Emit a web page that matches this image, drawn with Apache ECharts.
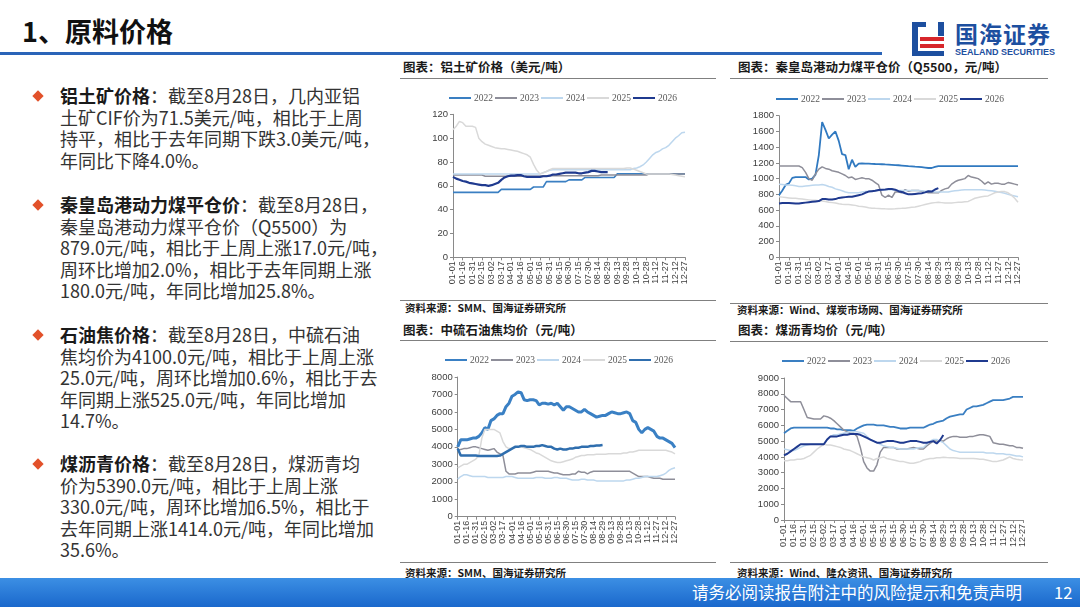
<!DOCTYPE html>
<html><head><meta charset="utf-8">
<script src="https://cdn.jsdelivr.net/npm/echarts/dist/echarts.min.js"></script>
<style>
body{margin:0;width:1080px;height:607px;position:relative;overflow:hidden;background:#fff;font-family:"Noto Sans CJK SC","Noto Sans",sans-serif;}
.abs{position:absolute;}
.para{position:absolute;left:60px;font-size:18px;line-height:21.6px;color:#333;white-space:nowrap;}
.para b{color:#1a1a1a;}
.dia{position:absolute;width:8px;height:8px;background:#e2512a;transform:rotate(45deg);}
.ct{position:absolute;font-size:12.5px;font-weight:bold;color:#1a1a1a;line-height:16px;white-space:nowrap;}
.src{position:absolute;font-size:10.5px;font-weight:bold;color:#1a1a1a;line-height:14px;white-space:nowrap;}
.hl{position:absolute;height:1px;background:#808080;}
.chart{position:absolute;}
</style></head>
<body>
<div class="abs" style="left:22px;top:13px;font-size:27px;font-weight:bold;line-height:36px;color:#111;">1、原料价格</div>
<div class="abs" style="left:0;top:52px;width:882px;height:3px;background:#2a64b8;"></div>
<!-- logo -->
<div class="abs" style="left:912px;top:22px;width:6px;height:34px;background:#1d4f9f;"></div>
<div class="abs" style="left:912px;top:22px;width:14px;height:5px;background:#1d4f9f;"></div>
<div class="abs" style="left:938px;top:22px;width:6px;height:14px;background:#1d4f9f;"></div>
<div class="abs" style="left:920px;top:37px;width:24px;height:4px;background:#d7262b;"></div>
<div class="abs" style="left:920px;top:44px;width:24px;height:4px;background:#d7262b;"></div>
<div class="abs" style="left:912px;top:51px;width:32px;height:5px;background:#1d4f9f;"></div>
<div class="abs" style="left:955px;top:19px;font-size:23px;font-weight:bold;color:#1d4f9f;letter-spacing:1px;line-height:28px;">国海证券</div>
<div class="abs" style="left:955px;top:47px;font-size:9px;font-weight:bold;color:#1d4f9f;font-family:'Liberation Sans',Arial,sans-serif;line-height:11px;">SEALAND SECURITIES</div>

<!-- left text -->
<div class="dia" style="left:34px;top:92px;"></div>
<div class="para" style="top:85px;"><b>铝土矿价格</b>：截至8月28日，几内亚铝<br>土矿CIF价为71.5美元/吨，相比于上周<br>持平，相比于去年同期下跌3.0美元/吨，<br>年同比下降4.0%。</div>
<div class="dia" style="left:34px;top:201px;"></div>
<div class="para" style="top:194px;"><b>秦皇岛港动力煤平仓价</b>：截至8月28日，<br>秦皇岛港动力煤平仓价（Q5500）为<br>879.0元/吨，相比于上周上涨17.0元/吨，<br>周环比增加2.0%，相比于去年同期上涨<br>180.0元/吨，年同比增加25.8%。</div>
<div class="dia" style="left:34px;top:331px;"></div>
<div class="para" style="top:324px;"><b>石油焦价格</b>：截至8月28日，中硫石油<br>焦均价为4100.0元/吨，相比于上周上涨<br>25.0元/吨，周环比增加0.6%，相比于去<br>年同期上涨525.0元/吨，年同比增加<br>14.7%。</div>
<div class="dia" style="left:34px;top:460px;"></div>
<div class="para" style="top:453px;"><b>煤沥青价格</b>：截至8月28日，煤沥青均<br>价为5390.0元/吨，相比于上周上涨<br>330.0元/吨，周环比增加6.5%，相比于<br>去年同期上涨1414.0元/吨，年同比增加<br>35.6%。</div>

<!-- chart frames -->
<div class="ct" style="left:403px;top:59px;">图表：铝土矿价格（美元/吨）</div>
<div class="hl" style="left:400px;top:78px;width:316px;"></div>
<div class="ct" style="left:738px;top:59px;">图表：秦皇岛港动力煤平仓价（Q5500，元/吨）</div>
<div class="hl" style="left:730px;top:78px;width:318px;"></div>
<div class="ct" style="left:403px;top:322px;">图表：中硫石油焦均价（元/吨）</div>
<div class="hl" style="left:400px;top:340px;width:316px;"></div>
<div class="ct" style="left:738px;top:322px;">图表：煤沥青均价（元/吨）</div>
<div class="hl" style="left:730px;top:341px;width:318px;"></div>

<div class="hl" style="left:400px;top:300px;width:316px;"></div>
<div class="src" style="left:405px;top:301px;">资料来源：SMM、国海证券研究所</div>
<div class="hl" style="left:730px;top:303px;width:318px;"></div>
<div class="src" style="left:737px;top:303px;">资料来源：Wind、煤炭市场网、国海证券研究所</div>
<div class="hl" style="left:400px;top:562px;width:316px;"></div>
<div class="src" style="left:405px;top:566px;">资料来源：SMM、国海证券研究所</div>
<div class="hl" style="left:730px;top:562px;width:318px;"></div>
<div class="src" style="left:737px;top:566px;">资料来源：Wind、隆众资讯、国海证券研究所</div>

<div id="c1" class="chart" style="left:400px;top:80px;width:320px;height:218px;"></div>
<div id="c2" class="chart" style="left:730px;top:80px;width:320px;height:220px;"></div>
<div id="c3" class="chart" style="left:400px;top:342px;width:320px;height:218px;"></div>
<div id="c4" class="chart" style="left:730px;top:342px;width:320px;height:218px;"></div>

<div class="abs" style="left:0;top:578px;width:1080px;height:29px;background:linear-gradient(180deg,#3c8fe4 0%,#1a68cc 100%);"></div>
<div class="abs" style="left:692px;top:578px;font-size:16.5px;line-height:29px;color:#fff;white-space:nowrap;">请务必阅读报告附注中的风险提示和免责声明</div>
<div class="abs" style="left:1054px;top:578px;font-size:16.5px;line-height:29px;color:#fff;">12</div>

<script>
const categories = [
'01-01','01-06','01-11','01-16','01-21','01-26','01-31','02-05','02-10','02-15','02-20','02-25',
'03-02','03-07','03-12','03-17','03-22','03-27','04-01','04-06','04-11','04-16','04-21','04-26',
'05-01','05-06','05-11','05-16','05-21','05-26','05-31','06-05','06-10','06-15','06-20','06-25',
'06-30','07-05','07-10','07-15','07-20','07-25','07-30','08-04','08-09','08-14','08-19','08-24',
'08-29','09-03','09-08','09-13','09-18','09-23','09-28','10-03','10-08','10-13','10-18','10-23',
'10-28','11-02','11-07','11-12','11-17','11-22','11-27','12-02','12-07','12-12','12-17','12-22',
'12-27'];
const years = ['2022','2023','2024','2025','2026'];

// Chart 1: bauxite (USD/t)
const bauxite2022 = [
54.5,54.5,54.5, 54.5,54.5,54.5, 54.5,54.5,54.5, 54.5,54.5,54.5, 54.5,54.5,54.5,
57,57,57, 57,57,57, 57,57,57, 57,59,59, 59,59,63.5,
63.5,63.5,63.5, 63.5,63.5,63.5, 65,65,65, 65,65,67, 67,67,67,
67,67,67, 67,67,67, 70,70,70, 70,70,70, 70,70,70,
70,70,70, 70,70,70, 70,70,70, 70,70,70, 70];
const bauxite2023 = [
69,69,69, 69,69,69, 69,69,69, 69,68,68, 68,68,68,
68,68,68, 68,68,68, 68,68,68, 68,68,68, 68,68.5,68.5,
68.5,68.5,68.5, 68.5,68.5,68.5, 68.5,68.5,68.5, 68.5,68.5,68.5, 68.5,68.5,68.5,
68.5,69,69, 69,69,69, 69,69,69, 69,69,69, 69,69,69,
69,70,70, 70,70,70, 70,70,70, 70,70,70, 70];
const bauxite2024 = [
70,70,70, 70,70,70, 70,70,70, 70,70,70, 70,70,70,
70,70,70, 70,70,70, 70,70,70, 70,70,70, 70,71,72,
73,73.5,73.5, 73.5,73.5,73.5, 73.5,73.5,73.5, 73.5,73.5,73.5, 73.5,73.5,73.5,
73.5,73.5,73.5, 73.5,73.5,73.5, 73.5,73.5,73.5, 73.5,73.5,74.5, 75,76,77.5,
80,83,86, 88,89,91, 92,94,97, 100,102,104.5, 105];
const bauxite2025 = [
107,110,114, 113,110,110, 110,109,100, 97,95,94, 93,92,91.5,
91,91,90.5, 90,89.5,89, 88,87,86, 84,78,73, 70,71,72,
73.5,74.5,74.5, 74.5,74.5,74.5, 74.5,74.5,74.5, 74.5,74.5,74.5, 74.5,74.5,74.5,
74.5,74.5,74.5, 74.5,74.5,74.5, 74.5,74.5,74.5, 75,75,74, 73,72,71,
70,70,70, 70,70,70, 70,70,69.5, 69,68.5,68, 67.5];
const bauxite2026 = [
67.5,66,65, 64,63.5,62.5, 62,61.5,61, 60.5,60.5,60, 60.5,61.5,62.5,
65,67,68, 68.5,68.5,69, 69,68,67.5, 67.5,67.5,67.5, 67.5,68,68,
68.5,69.5,69.5, 70,70.5,71, 71,71,71, 70.5,70.5,71, 71.5,72.5,72.5,
72,71.5,71.5, 71.5];

// Chart 2: Qinhuangdao thermal coal Q5500 (CNY/t)
const coal2022 = [
790,850,920, 940,1010,1020, 1020,1020,1020, 990,1000,1050, 1300,1720,1620,
1510,1560,1600, 1480,1310,1300, 1120,1240,1150, 1190,1195,1190, 1190,1188,1186,
1185,1183,1180, 1178,1175,1172, 1170,1166,1162, 1158,1155,1152, 1150,1145,1140,
1135,1135,1150, 1160,1160,1160, 1160,1160,1160, 1160,1160,1160, 1160,1160,1160,
1160,1160,1160, 1160,1160,1160, 1160,1160,1160, 1160,1160,1160, 1160];
const coal2023 = [
1160,1160,1160, 1160,1160,1160, 1160,1140,1080, 1000,980,1060, 1120,1150,1130,
1120,1100,1090, 1080,1060,1040, 1010,1020,990, 1000,1010,1000, 1000,980,950,
920,790,760, 790,760,830, 830,820,860, 840,850,850, 850,840,830,
820,820,820, 820,850,870, 880,930,960, 980,990,1000, 1040,1020,1010,
1000,970,930, 960,930,940, 940,930,930, 950,940,930, 920];
const coal2024 = [
930,925,920, 920,915,910, 900,900,905, 910,915,920, 920,925,915,
900,890,870, 860,845,830, 820,820,820, 820,830,835, 840,845,850,
850,855,860, 860,860,855, 850,850,850, 850,850,850, 850,845,840,
840,835,830, 830,830,830, 830,840,845, 850,855,860, 860,860,860,
860,860,855, 850,845,840, 830,825,815, 800,790,780, 770];
const coal2025 = [
770,765,760, 755,750,750, 745,740,735, 730,725,725, 720,715,710,
700,695,690, 680,675,672, 670,665,660, 650,645,640, 630,625,622,
620,618,616, 615,615,616, 620,622,625, 630,635,640, 650,660,670,
680,690,695, 699,695,690, 690,690,695, 700,700,705, 710,730,750,
760,770,775, 780,800,820, 830,835,835, 820,790,750, 700];
const coal2026 = [
685,690,690, 690,688,685, 685,690,695, 700,705,710, 715,740,740,
735,735,740, 755,760,765, 770,770,780, 790,800,820, 835,840,845,
855,860,862, 868,868,860, 840,830,815, 800,800,805, 810,815,825,
840,835,862, 879];

// Chart 3: medium-sulfur petroleum coke (CNY/t)
const petcoke2022 = [
4000,4400,4400, 4400,4450,4500, 4500,4600,4800, 5100,5000,5500, 5600,5800,5900,
5900,6300,6500, 6900,7000,7150, 7100,6700,6650, 6700,6700,6650, 6400,6500,6500,
6450,6500,6400, 6500,6300,6100, 6300,6300,6200, 6100,6000,6000, 6150,6000,5900,
5800,5700,5750, 5800,5800,5900, 6000,5950,5900, 5900,5950,6000, 5900,5500,5400,
5000,4800,5000, 5100,5000,4900, 4600,4500,4500, 4400,4300,4200, 3950];
const petcoke2023 = [
3800,3850,3900, 3900,3950,4000, 4000,3950,3900, 3850,3800,3850, 3900,3700,3600,
3500,2600,2450, 2450,2450,2500, 2500,2500,2500, 2500,2550,2600, 2600,2600,2600,
2600,2550,2500, 2500,2450,2400, 2400,2400,2450, 2450,2600,2550, 2550,2450,2550,
2600,2600,2600, 2600,2600,2600, 2600,2600,2600, 2600,2600,2600, 2600,2500,2400,
2300,2300,2300, 2300,2250,2200, 2200,2200,2150, 2150,2150,2150, 2150];
const petcoke2024 = [
2150,2300,2400, 2400,2350,2300, 2300,2300,2300, 2300,2250,2250, 2250,2250,2250,
2250,2300,2300, 2300,2250,2200, 2200,2200,2200, 2200,2200,2250, 2250,2250,2200,
2200,2200,2250, 2250,2200,2200, 2200,2150,2100, 2100,2100,2150, 2150,2100,2100,
2100,2050,2050, 2050,2050,2050, 2050,2050,2050, 2050,2050,2100, 2100,2150,2200,
2200,2250,2300, 2300,2300,2300, 2300,2350,2400, 2500,2650,2750, 2800];
const petcoke2025 = [
2800,2900,3000, 3000,3100,3200, 3300,3500,4500, 5000,5000,5000, 5000,4900,4800,
4300,4000,3900, 3900,3950,4000, 4000,3950,3900, 3850,3750,3650, 3600,3500,3400,
3300,3200,3150, 3100,3100,3150, 3200,3250,3300, 3400,3450,3500, 3500,3550,3550,
3550,3575,3575, 3575,3575,3600, 3600,3600,3600, 3600,3650,3650, 3700,3700,3750,
3800,3800,3800, 3800,3800,3800, 3800,3800,3800, 3800,3750,3700, 3600];
const petcoke2026 = [
3900,3500,3500, 3500,3500,3500, 3500,3480,3480, 3480,3480,3480, 3480,3480,3500,
3600,3700,3800, 3900,4000,4000, 4050,4050,4000, 4000,4000,4050, 4050,4100,4050,
4000,4000,3900, 3850,3900,3850, 3850,3900,3900, 3950,3950,4000, 4000,4000,4050,
4050,4075,4075, 4100];

// Chart 4: coal tar pitch (CNY/t)
const pitch2022 = [
5500,5650,5800, 5850,5850,5850, 5850,5850,5850, 5850,5850,5850, 5850,5850,5800,
5800,5750,5750, 5700,5700,5700, 5650,5800,5900, 6000,6050,6050, 6050,6000,6000,
6000,5950,5900, 5900,5850,5800, 5800,5800,5850, 5850,5850,5850, 5850,5950,6050,
6100,6200,6250, 6300,6450,6550, 6600,6650,6700, 6700,7000,7100, 7200,7200,7250,
7300,7400,7500, 7600,7600,7600, 7600,7650,7700, 7800,7800,7800, 7800];
const pitch2023 = [
7900,7700,7500, 7500,7500,7500, 7000,6500,6450, 6400,6400,6400, 6600,6550,6450,
6300,6100,5900, 5700,5600,5500, 5500,5300,4600, 3700,3300,3100, 3100,3500,4300,
4600,4600,4600, 4600,4500,4500, 4500,4500,4550, 4600,4550,4500, 4500,4700,4850,
5000,5000,5000, 5000,5150,5250, 5300,5300,5250, 5250,5250,5300, 5300,5350,5400,
5400,5350,5300, 4900,4850,4800, 4800,4750,4700, 4700,4600,4600, 4550];
const pitch2024 = [
4500,4450,4400, 4400,4500,4600, 4700,4750,4800, 4800,4800,4800, 4800,5100,5300,
5400,5400,5450, 5500,5550,5600, 5600,5600,5550, 5500,5300,5100, 5000,4900,4800,
4700,4650,4600, 4600,4550,4500, 4500,4500,4500, 4500,4550,4600, 4600,4800,5000,
5100,5100,5000, 4900,4700,4500, 4400,4350,4300, 4300,4300,4300, 4300,4300,4300,
4300,4250,4250, 4250,4200,4200, 4200,4150,4150, 4100,4050,4050, 4000];
const pitch2025 = [
3750,3750,3800, 3800,3850,3850, 3900,4000,4100, 4300,4500,4650, 4800,4750,4750,
4700,4650,4600, 4500,4450,4400, 4300,4200,4100, 4000,3950,3900, 3800,3900,3950,
4000,3900,3850, 3800,3750,3700, 3700,3650,3600, 3600,3650,3700, 3800,3850,3900,
3900,3950,3950, 3976,3960,3950, 3950,3930,3900, 3900,3900,3900, 3900,3880,3850,
3850,3800,3750, 3700,3700,3750, 3800,3900,4000, 3900,3850,3820, 3800];
const pitch2026 = [
4100,4200,4350, 4500,4650,4800, 4800,4800,4800, 4800,4800,4800, 4800,5100,5300,
5300,5300,5350, 5400,5400,5450, 5450,5450,5400, 5300,5200,5100, 5000,4900,4900,
4950,5000,5000, 5000,4950,4900, 4900,4950,5000, 5000,5000,4950, 4900,4900,4950,
5000,4850,5060, 5390];

function pad(a){ const r=a.slice(); while(r.length<categories.length) r.push(null); return r; }

const C22='#3a7fc2', C23='#8e8e99', C24='#bdd7ee', C25='#d9d9d9', C26='#1f3a8f';

function build(el, datasets, styles, yMax, yInt, grid, legendLeft, legendTop){
  const chart = echarts.init(document.getElementById(el), null, {renderer:'canvas'});
  const series = datasets.map((d,i)=>({
    name: years[i], type:'line', data: pad(d), symbol:'none', showSymbol:false,
    connectNulls:false, animation:false,
    lineStyle:{color:styles[i].c, width:styles[i].w}, itemStyle:{color:styles[i].c}
  }));
  chart.setOption({
    animation:false,
    legend:{data:years.map((y,i)=>({name:y, icon:'rect', itemStyle:{color:styles[i].c}})),
      left:legendLeft, top:legendTop, itemWidth:22, itemHeight:2, itemGap:2,
      textStyle:{fontFamily:'"Liberation Serif","Times New Roman",serif', fontSize:9.5, color:'#595959', padding:[0,0,0,-2]}},
    grid:{left:grid[0], right:grid[1], top:grid[2], bottom:grid[3], containLabel:false, outerBoundsMode:'none'},
    xAxis:{type:'category', data:categories, boundaryGap:false,
      axisLine:{show:true, lineStyle:{color:'#8a8a8a', width:1}},
      axisTick:{show:true, interval:2, length:3, lineStyle:{color:'#8a8a8a'}},
      axisLabel:{interval:2, rotate:90, fontSize:9, lineHeight:7, color:'#404040', margin:4,
        showMinLabel:true, showMaxLabel:true, hideOverlap:false,
        fontFamily:'"Liberation Sans",Arial,sans-serif'},
      splitLine:{show:false}},
    yAxis:{type:'value', min:0, max:yMax, interval:yInt,
      axisLine:{show:true, lineStyle:{color:'#8a8a8a', width:1}},
      axisTick:{show:true, length:3, lineStyle:{color:'#8a8a8a'}},
      axisLabel:{fontSize:9.5, color:'#404040', margin:5, showMinLabel:true, showMaxLabel:true,
        formatter:function(v){return String(v);}, fontFamily:'"Liberation Sans",Arial,sans-serif'},
      splitLine:{show:false}},
    series: series
  });
}

const normal = [{c:C22,w:1.6},{c:C23,w:1.5},{c:C24,w:1.5},{c:C25,w:1.5},{c:C26,w:2.2}];
build('c1', [bauxite2022,bauxite2023,bauxite2024,bauxite2025,bauxite2026], normal, 120, 20, [53,35,34.3,40.7], 44, 8);
build('c2', [coal2022,coal2023,coal2024,coal2025,coal2026], [{c:'#3079c0',w:1.8},{c:C23,w:1.5},{c:C24,w:1.5},{c:C25,w:1.5},{c:C26,w:2}], 1800, 200, [49,32,35.7,42.7], 41, 9);
build('c3', [petcoke2022,petcoke2023,petcoke2024,petcoke2025,petcoke2026], [{c:'#3a80c4',w:3},{c:C23,w:1.5},{c:C24,w:1.5},{c:C25,w:1.5},{c:'#2f6eae',w:2.5}], 8000, 1000, [57.7,45,35,43.3], 40, 8);
build('c4', [pitch2022,pitch2023,pitch2024,pitch2025,pitch2026], [{c:'#3a7fc2',w:1.8},{c:C23,w:1.5},{c:C24,w:1.5},{c:C25,w:1.5},{c:C26,w:2}], 9000, 1000, [54,27,36,40], 47, 9);
</script>
</body></html>
